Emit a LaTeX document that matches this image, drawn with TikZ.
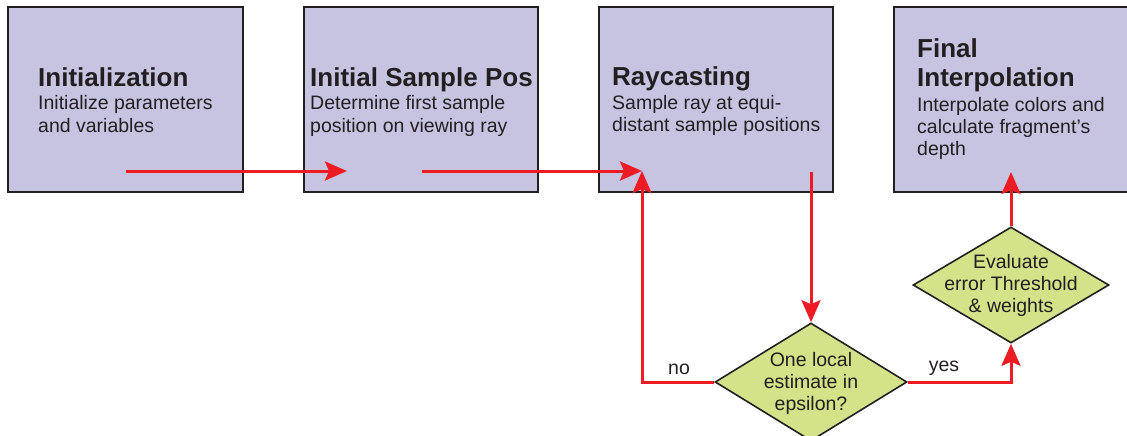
\documentclass[tikz,border=0pt]{standalone}
\usepackage{fontspec}
\setmainfont{Liberation Sans}
\usetikzlibrary{shapes.geometric,arrows.meta}
\definecolor{boxfill}{RGB}{199,196,226}
\definecolor{diafill}{RGB}{212,226,138}
\definecolor{edge}{RGB}{35,31,32}
\definecolor{arrowred}{RGB}{237,28,36}
\tikzset{
  stepbox/.style={draw=edge,line width=2pt,fill=boxfill,rectangle,minimum height=185pt,inner sep=0pt},
  decision/.style={draw=edge,line width=1.6pt,fill=diafill,diamond,inner sep=0pt},
  ttl/.style={anchor=base west,inner sep=0pt,text=edge,font=\fontsize{26}{28}\selectfont\bfseries},
  body/.style={anchor=base west,inner sep=0pt,text=edge,font=\fontsize{19.5}{22}\selectfont},
  dtext/.style={align=center,inner sep=0pt,text=edge,font=\fontsize{19.5}{22}\selectfont},
  lbl/.style={inner sep=0pt,text=edge,font=\fontsize{19.5}{22}\selectfont},
  flow/.style={draw=arrowred,line width=3pt,-{Stealth[length=22pt,width=19pt,inset=4pt]}},
}
\begin{document}
\begin{tikzpicture}[x=1pt,y=-1pt]
\useasboundingbox (0,0) rectangle (1127,436);
\clip (0,0) rectangle (1127,436);
% boxes
\node[stepbox,minimum width=235pt] (b1) at (125.5,99.5) {};
\node[stepbox,minimum width=234pt] (b2) at (421,99.5) {};
\node[stepbox,minimum width=234pt] (b3) at (716,99.5) {};
\node[stepbox,minimum width=236pt] (b4) at (1012,99.5) {};
% box texts
\node[ttl] (t1) at (38,86) {Initialization};
\node[body] (t1a) at (38,110) {Initialize parameters};
\node[body] (t1b) at (38,132) {and variables};
\node[ttl] (t2) at (310,86) {Initial Sample Pos};
\node[body] (t2a) at (310,110) {Determine first sample};
\node[body] (t2b) at (310,132) {position on viewing ray};
\node[ttl] (t3) at (612,85) {Raycasting};
\node[body] (t3a) at (612,109) {Sample ray at equi-};
\node[body] (t3b) at (612,131) {distant sample positions};
\node[ttl] (t4) at (917,58) {Final};
\node[ttl] (t4x) at (917,87) {Interpolation};
\node[body] (t4a) at (917,111) {Interpolate colors and};
\node[body] (t4b) at (917,133) {calculate fragment’s};
\node[body] (t4c) at (917,155) {depth};
% diamonds
\node[decision,minimum width=192pt,minimum height=118pt] (d1) at (811,382) {};
\node[dtext] (d1t) at (811,383) {One local\\estimate in\\epsilon?};
\node[decision,minimum width=196pt,minimum height=116pt] (d2) at (1011,285) {};
\node[dtext] (d2t) at (1011,285) {Evaluate\\error Threshold\\\& weights};
% labels
\node[lbl] (no) at (679,369) {no};
\node[lbl] (yes) at (944,368) {yes};
% arrow end points
\coordinate (a1s) at (126,171);
\coordinate (a1e) at (347,171);
\coordinate (a2s) at (422,171);
\coordinate (a2e) at (642,171);
\coordinate (a3s) at (811,172);
\coordinate (a4e) at (642,171);
\coordinate (a5e) at (1011,172);
% connectors
\draw[flow] (a1s) -- (a1e);
\draw[flow] (a2s) -- (a2e);
\draw[flow] (a3s) -- (d1.north);
\draw[flow] (d1.west) -| (a4e);
\draw[flow] (d1.east) -| (d2.south);
\draw[flow] (d2.north) -- (a5e);
\end{tikzpicture}
\end{document}
